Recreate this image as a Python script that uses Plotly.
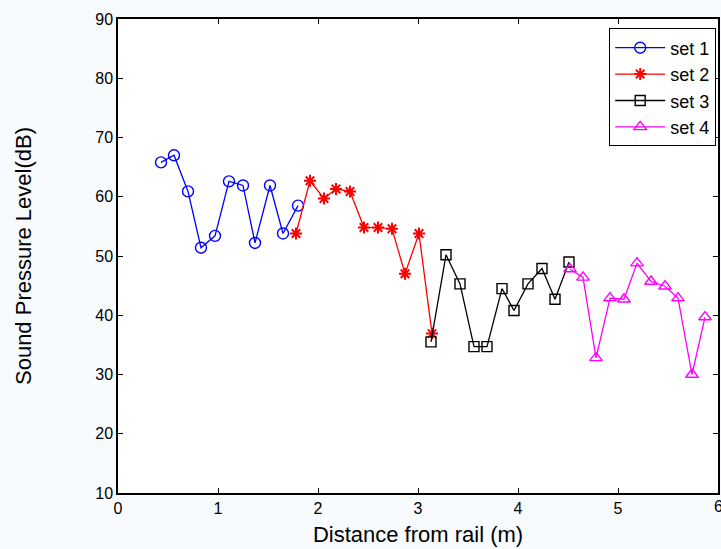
import plotly.graph_objects as go

set1_x = [0.43, 0.56, 0.70, 0.83, 0.97, 1.11, 1.25, 1.37, 1.52, 1.65, 1.80]
set1_y = [65.8, 67.0, 60.9, 51.4, 53.4, 62.6, 61.9, 52.2, 61.9, 53.8, 58.5]

set2_x = [1.78, 1.92, 2.06, 2.18, 2.32, 2.46, 2.60, 2.74, 2.87, 3.01, 3.14]
set2_y = [53.8, 62.7, 59.7, 61.3, 60.9, 54.8, 54.8, 54.6, 47.0, 53.8, 36.9]

set3_x = [3.13, 3.28, 3.42, 3.56, 3.69, 3.84, 3.96, 4.10, 4.24, 4.37, 4.51]
set3_y = [35.5, 50.2, 45.3, 34.7, 34.7, 44.5, 40.8, 45.3, 47.9, 42.7, 49.0]

set4_x = [4.52, 4.65, 4.78, 4.92, 5.06, 5.19, 5.33, 5.47, 5.60, 5.74, 5.87]
set4_y = [47.8, 46.4, 32.8, 42.9, 42.7, 48.8, 45.7, 44.9, 42.9, 30.0, 39.7]

x_ticks = [0, 1, 2, 3, 4, 5]
x_last_tick = 6
y_ticks = [10, 20, 30, 40, 50, 60, 70, 80, 90]

FONT = "Arial, Liberation Sans"

fig = go.Figure()
fig.add_trace(go.Scatter(x=set1_x, y=set1_y, mode="lines+markers", name="set 1",
                         line=dict(color="#0000ff", width=1.3),
                         marker=dict(symbol="circle-open", size=11, color="#0000ff",
                                     line=dict(width=1.4, color="#0000ff"))))
fig.add_trace(go.Scatter(x=set2_x, y=set2_y, mode="lines+markers", name="set 2",
                         line=dict(color="#ff0000", width=1.3),
                         marker=dict(symbol="asterisk-open", size=10, color="#ff0000",
                                     line=dict(width=2, color="#ff0000"))))
fig.add_trace(go.Scatter(x=set3_x, y=set3_y, mode="lines+markers", name="set 3",
                         line=dict(color="#000000", width=1.3),
                         marker=dict(symbol="square-open", size=10, color="#000000",
                                     line=dict(width=1.4, color="#000000"))))
fig.add_trace(go.Scatter(x=set4_x, y=set4_y, mode="lines+markers", name="set 4",
                         line=dict(color="#ff00ff", width=1.3),
                         marker=dict(symbol="triangle-up-open", size=11, color="#ff00ff",
                                     line=dict(width=1.4, color="#ff00ff"))))

axis_common = dict(showline=True, linecolor="black", linewidth=1.5, mirror="ticks",
                   ticks="inside", ticklen=5, tickcolor="black", showgrid=False,
                   zeroline=False, tickfont=dict(family=FONT, size=16, color="black"))

fig.update_xaxes(range=[0, 6], tickvals=x_ticks + [x_last_tick],
                 title=dict(text="Distance from rail (m)", font=dict(family=FONT, size=22, color="black"), standoff=11),
                 **axis_common)
fig.update_yaxes(range=[10, 90], tickvals=y_ticks,
                 title=dict(text="Sound Pressure Level(dB)", font=dict(family=FONT, size=22, color="black"), standoff=58),
                 **axis_common)

# last x tick label is partly cut by the window edge in the reference
fig.add_annotation(x=x_last_tick, y=0, xref="x", yref="paper", text=str(x_last_tick),
                   showarrow=False, yanchor="top", xanchor="center", yshift=-3,
                   font=dict(family=FONT, size=16, color="black"))

fig.update_layout(width=721, height=549,
                  margin=dict(l=118, r=1, t=19, b=56),
                  paper_bgcolor="#f8fbfd", plot_bgcolor="white",
                  showlegend=True,
                  legend=dict(x=0.997, y=0.98, xanchor="right", yanchor="top",
                              bgcolor="white", bordercolor="black", borderwidth=1,
                              font=dict(family=FONT, size=18, color="black"),
                              tracegroupgap=0, itemwidth=50))

fig.write_html("out.html")
